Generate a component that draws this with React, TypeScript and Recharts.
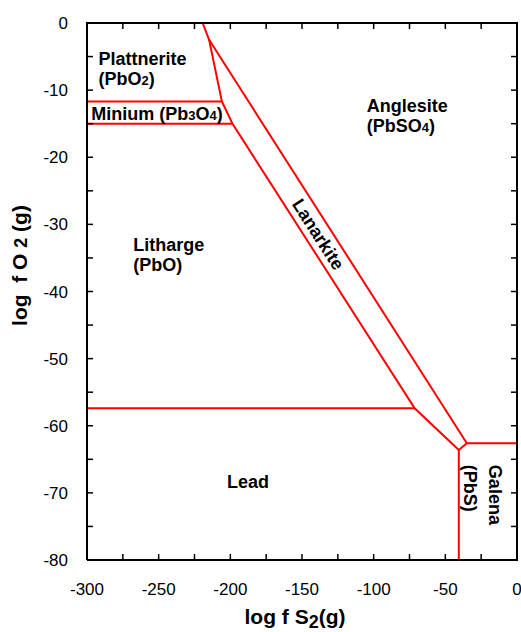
import { LineChart, Line, XAxis, YAxis, ReferenceDot } from "recharts";

const xTicks = [-300, -250, -200, -150, -100, -50, 0];
const xMinorTicks = [-300, -275, -250, -225, -200, -175, -150, -125, -100, -75, -50, -25, 0];
const yTicks = [-80, -70, -60, -50, -40, -30, -20, -10, 0];
const yMinorTicks = [-80, -75, -70, -65, -60, -55, -50, -45, -40, -35, -30, -25, -20, -15, -10, -5, 0];

// phase boundaries, log f S2 vs log f O2
const leftBoundary = [
  { x: -219.3, y: 0 },
  { x: -214.8, y: -2.5 },
  { x: -205.9, y: -11.7 },
  { x: -198.5, y: -15 },
  { x: -71.4, y: -57.4 },
  { x: -40.6, y: -63.6 },
];
const lanarkiteAnglesite = [
  { x: -214.8, y: -2.5 },
  { x: -35, y: -62.6 },
];
const miniumTop = [
  { x: -300, y: -11.7 },
  { x: -205.9, y: -11.7 },
];
const miniumBottom = [
  { x: -300, y: -15 },
  { x: -198.5, y: -15 },
];
const lithargeLead = [
  { x: -300, y: -57.4 },
  { x: -71.4, y: -57.4 },
];
const leadGalena = [
  { x: -40.6, y: -63.6 },
  { x: -40.6, y: -80 },
];
const galenaAnglesite = [
  { x: -40.6, y: -63.6 },
  { x: -35, y: -62.6 },
  { x: 0, y: -62.6 },
];

const boundaries = [leftBoundary, lanarkiteAnglesite, miniumTop, miniumBottom, lithargeLead, leadGalena, galenaAnglesite];

// field names; "_n" marks a subscript digit
const regionLabels = [
  { lines: ["Plattnerite", "(PbO_2)"], x: -292, y: -6.2, rotate: 0 },
  { lines: ["Minium (Pb_3O_4)"], x: -297.1, y: -14.4, rotate: 0 },
  { lines: ["Anglesite", "(PbSO_4)"], x: -104.8, y: -13.3, rotate: 0 },
  { lines: ["Litharge", "(PbO)"], x: -267.8, y: -34, rotate: 0 },
  { lines: ["Lead"], x: -202.3, y: -69.3, rotate: 0 },
  { lines: ["Lanarkite"], x: -138.8, y: -31.5, rotate: 57.4 },
  { lines: ["Galena"], x: -15.5, y: -70.3, rotate: 90 },
  { lines: ["(PbS)"], x: -32.9, y: -69.3, rotate: 90 },
];

const FONT = "'Liberation Sans', Arial, sans-serif";
const RED = "#ff0000";
const W = 521;
const H = 632;
const MARGIN = { top: 23, right: 4, bottom: 72, left: 87 };
const TICK = 6;

function withSubs(str: string) {
  const parts = str.split(/_(\d)/);
  return parts.map((p, i) =>
    i % 2 === 1 ? (
      <tspan key={i} fontSize={13}>
        {p}
      </tspan>
    ) : (
      <tspan key={i}>{p}</tspan>
    )
  );
}

function RegionText({ viewBox, lines, rotate }: any) {
  const cx = viewBox.x + (viewBox.width || 0) / 2;
  const cy = viewBox.y + (viewBox.height || 0) / 2;
  if (rotate) {
    return (
      <text
        x={cx}
        y={cy}
        transform={`rotate(${rotate}, ${cx}, ${cy})`}
        textAnchor="middle"
        dominantBaseline="central"
        fontFamily={FONT}
        fontWeight="bold"
        fontSize={18}
        fill="#000"
      >
        {withSubs(lines[0])}
      </text>
    );
  }
  return (
    <g>
      {lines.map((l: string, i: number) => (
        <text key={i} x={cx} y={cy + i * 20} fontFamily={FONT} fontWeight="bold" fontSize={18} fill="#000">
          {withSubs(l)}
        </text>
      ))}
    </g>
  );
}

const XTitle = ({ viewBox }: any) => (
  <text
    x={viewBox.x + viewBox.width / 2 - 7}
    y={viewBox.y + 64}
    textAnchor="middle"
    fontFamily={FONT}
    fontWeight="bold"
    fontSize={21}
    fill="#000"
  >
    log f S
    <tspan fontSize={18} dy={4}>2</tspan>
    <tspan dy={-4}>(g)</tspan>
  </text>
);

const YTitle = ({ viewBox }: any) => {
  const x = 27;
  const y = viewBox.y + viewBox.height / 2 - 26;
  return (
    <text
      x={x}
      y={y}
      transform={`rotate(-90, ${x}, ${y})`}
      textAnchor="middle"
      fontFamily={FONT}
      fontWeight="bold"
      fontSize={21}
      fill="#000"
      style={{ whiteSpace: "pre" }}
    >
      {"log  f O "}
      <tspan fontSize={18}>2</tspan>
      {" (g)"}
    </text>
  );
};

const noTick = () => <g />;
const tickStroke = { stroke: "#000", strokeWidth: 1.5 };
const frame = { stroke: "#000", strokeWidth: 2 };

// inward ticks on the bottom and left edges
function TickFrame() {
  return (
    <LineChart width={W} height={H} margin={MARGIN}>
      <XAxis
        dataKey="x"
        type="number"
        domain={[-300, 0]}
        allowDataOverflow
        ticks={xMinorTicks}
        interval={0}
        mirror
        tick={noTick}
        tickLine={tickStroke}
        axisLine={false}
      />
      <YAxis
        type="number"
        domain={[-80, 0]}
        allowDataOverflow
        ticks={yMinorTicks}
        interval={0}
        mirror
        tick={noTick}
        tickLine={tickStroke}
        axisLine={false}
      />
      <Line
        data={lithargeLead}
        dataKey="y"
        stroke="none"
        dot={false}
        activeDot={false}
        legendType="none"
        isAnimationActive={false}
      />
    </LineChart>
  );
}

// top and right box edges with inward ticks, laid over the plot box
function TopRightFrame() {
  const left = MARGIN.left;
  const right = W - MARGIN.right;
  const top = MARGIN.top;
  const bottom = H - MARGIN.bottom;
  const sx = (v: number) => left + ((v + 300) / 300) * (right - left);
  const sy = (v: number) => top + (-v / 80) * (bottom - top);
  return (
    <svg width={W} height={H} style={{ display: "block" }}>
      <line x1={left - 1} y1={top} x2={right + 1} y2={top} stroke="#000" strokeWidth={2} />
      <line x1={right} y1={top} x2={right} y2={bottom + 1} stroke="#000" strokeWidth={2} />
      {xMinorTicks.map((t) => (
        <line key={`t${t}`} x1={sx(t)} y1={top} x2={sx(t)} y2={top + TICK} stroke="#000" strokeWidth={1.5} />
      ))}
      {yMinorTicks.map((t) => (
        <line key={`r${t}`} x1={right} y1={sy(t)} x2={right - TICK} y2={sy(t)} stroke="#000" strokeWidth={1.5} />
      ))}
    </svg>
  );
}

const layer = { position: "absolute" as const, left: 0, top: 0, width: W, height: H };

export default function App() {
  return (
    <div style={layer}>
      <div style={layer}>
        <LineChart width={W} height={H} margin={{ top: MARGIN.top, right: MARGIN.right, bottom: 0, left: 0 }}>
          <XAxis
            dataKey="x"
            type="number"
            domain={[-300, 0]}
            ticks={xTicks}
            interval={0}
            height={MARGIN.bottom}
            tickLine={false}
            tickMargin={17}
            axisLine={frame}
            tick={{ fill: "#000", fontSize: 17, fontFamily: FONT }}
            label={{ content: XTitle }}
          />
          <YAxis
            type="number"
            domain={[-80, 0]}
            ticks={yTicks}
            interval={0}
            width={MARGIN.left}
            tickLine={false}
            tickMargin={13}
            axisLine={frame}
            tick={{ fill: "#000", fontSize: 17, fontFamily: FONT }}
            label={{ content: YTitle }}
          />
          {boundaries.map((b, i) => (
            <Line
              key={i}
              data={b}
              dataKey="y"
              type="linear"
              stroke={RED}
              strokeWidth={2}
              dot={false}
              activeDot={false}
              legendType="none"
              isAnimationActive={false}
            />
          ))}
          {regionLabels.map((r, i) => (
            <ReferenceDot
              key={i}
              x={r.x}
              y={r.y}
              r={0}
              fill="none"
              stroke="none"
              label={{ content: (p: any) => <RegionText viewBox={p.viewBox} lines={r.lines} rotate={r.rotate} /> }}
            />
          ))}
        </LineChart>
      </div>
      <div style={{ ...layer, pointerEvents: "none" }}>
        <TickFrame />
      </div>
      <div style={{ ...layer, pointerEvents: "none" }}>
        <TopRightFrame />
      </div>
    </div>
  );
}
